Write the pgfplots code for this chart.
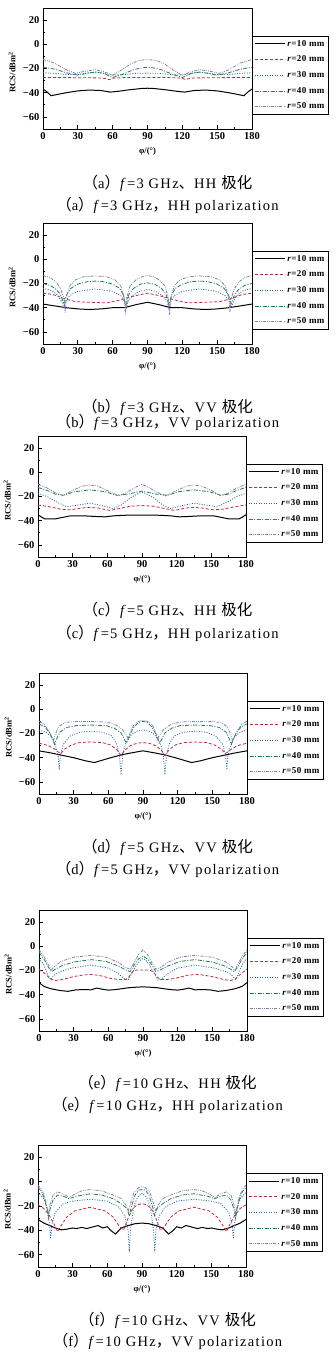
\documentclass[border=0pt]{standalone}
\usepackage{pgfplots}
\pgfplotsset{compat=1.18}
\usepackage{fontspec}
\setmainfont{Liberation Serif}
\newfontfamily\cjk{Noto Sans CJK SC}
\newfontfamily\capfont[LetterSpace=9]{Liberation Serif}
\newfontfamily\legfont[LetterSpace=5]{Liberation Serif}
\newcommand\zh[1]{{\cjk\fontsize{15.5}{16}\selectfont #1}}
\definecolor{cA}{RGB}{0,0,0}
\definecolor{cB}{RGB}{200,40,60}
\definecolor{cC}{RGB}{40,105,165}
\definecolor{cD}{RGB}{30,130,80}
\definecolor{cE}{RGB}{140,120,170}
\pgfplotsset{
 rcs/.style={
  scale only axis, width=208pt, height=121pt,
  xmin=0, xmax=180, ymin=-70, ymax=30,
  xtick={0,30,...,180}, xticklabels={0,30,60,90,120,150,180},
  ytick={-60,-40,...,20}, yticklabels={−60,−40,−20,0,20},
  minor x tick num=1, minor y tick num=1,
  tick align=inside, tick pos=left,
  major tick length=4pt, minor tick length=2pt,
  axis line style={line width=0.8pt},
  every tick/.style={line width=0.8pt, black},
  tick label style={font=\bfseries\fontsize{10.5}{12}\selectfont},
  xlabel={φ/(°)}, ylabel={RCS/dBm\textsuperscript{2}},
  label style={font=\bfseries\fontsize{8.5}{10}\selectfont},
  x label style={at={(axis description cs:0.5,0)}, anchor=center, yshift=-22pt},
  y label style={at={(axis description cs:-0.148,0.47)}, anchor=center},
  legend style={at={(1,0.77)}, anchor=north west, draw=black, line width=0.6pt,
    font=\legfont\bfseries\fontsize{9}{10}\selectfont, inner xsep=2pt, inner ysep=2pt,
    row sep=4.2pt, cells={anchor=east}},
  legend image code/.code={\draw[##1] (0pt,0pt) -- (30pt,0pt);},
 },
 s10/.style={color=cA, line width=1pt, solid},
 s20/.style={color=cB, line width=0.8pt, dash pattern=on 3pt off 2pt},
 s30/.style={color=cC, line width=0.8pt, dash pattern=on 1pt off 1.5pt},
 s40/.style={color=cD, line width=0.8pt, dash pattern=on 4pt off 1.5pt on 1pt off 1.5pt},
 s50/.style={color=cE, line width=0.8pt, dash pattern=on 3pt off 1.2pt on 0.8pt off 1.2pt on 0.8pt off 1.2pt},
}
\newcommand\rleg{\legend{\textit{r}=10 mm,\textit{r}=20 mm,\textit{r}=30 mm,\textit{r}=40 mm,\textit{r}=50 mm}}
\begin{document}
\begin{tikzpicture}
\useasboundingbox (0pt,0pt) rectangle (335pt,-1352pt);
% (a)
\begin{axis}[rcs, at={(43pt,-8pt)}, anchor=north west, width=209pt]
\addplot[s10] coordinates {(0,-37) (3,-39) (7,-42.5) (12,-41.5) (20,-40) (30,-38.5) (40,-37.8) (50,-38.2) (58,-39.5) (65,-38.8) (75,-37.5) (85,-36.5) (90,-36.3) (95,-36.5) (105,-37.5) (115,-38.8) (122,-39.5) (130,-38.2) (140,-37.8) (150,-38.5) (160,-40) (168,-41.5) (173,-42.5) (177,-39) (180,-37)};
\addplot[s20] coordinates {(0,-27.5) (20,-27.5) (50,-27.8) (55,-28.5) (57,-29.3) (60,-28) (70,-27.5) (90,-27.5) (110,-27.5) (120,-28) (123,-29.3) (125,-28.5) (130,-27.8) (160,-27.5) (180,-27.5)};
\addplot[s30] coordinates {(0,-23.5) (10,-24) (20,-25) (30,-25) (40,-23.5) (45,-23) (50,-23.5) (60,-25.5) (70,-25) (80,-24) (90,-23.8) (100,-24) (110,-25) (120,-25.5) (130,-23.5) (135,-23) (140,-23.5) (150,-25) (160,-25) (170,-24) (180,-23.5)};
\addplot[s40] coordinates {(0,-19) (10,-20.5) (20,-23.5) (30,-25.5) (38,-24) (45,-23) (52,-24) (60,-27.5) (68,-25) (78,-21) (85,-19.5) (90,-19) (95,-19.5) (102,-21) (112,-25) (120,-27.5) (128,-24) (135,-23) (142,-24) (150,-25.5) (160,-23.5) (170,-20.5) (180,-19)};
\addplot[s50] coordinates {(0,-12.5) (10,-15.5) (20,-21) (28,-24) (35,-22.5) (45,-21) (52,-22.5) (60,-25.5) (68,-21) (75,-16.5) (82,-13.5) (90,-12.5) (98,-13.5) (105,-16.5) (112,-21) (120,-25.5) (128,-22.5) (135,-21) (145,-22.5) (152,-24) (160,-21) (170,-15.5) (180,-12.5)};
\rleg
\end{axis}
% (b)
\begin{axis}[rcs, at={(43pt,-223pt)}, anchor=north west, width=209pt]
\addplot[s10] coordinates {(0,-37) (10,-38.5) (20,-40) (30,-41) (40,-41.5) (50,-41) (60,-40) (70,-40) (80,-37.5) (90,-35.5) (100,-37.5) (110,-40) (120,-40) (130,-41) (140,-41.5) (150,-41) (160,-40) (170,-38.5) (180,-37)};
\addplot[s20] coordinates {(0,-28) (8,-29) (14,-31) (20,-33) (28,-35) (40,-35.5) (55,-36) (65,-34) (72,-32) (80,-30) (90,-28) (100,-30) (108,-32) (115,-34) (125,-36) (140,-35.5) (152,-35) (160,-33) (166,-31) (172,-29) (180,-28)};
\addplot[s30] coordinates {(0,-24) (8,-26) (13,-30) (16,-35) (18,-40) (19.5,-35) (23,-30) (30,-26.5) (45,-24.5) (60,-26.5) (67,-30) (70,-35) (71.5,-41) (73,-35) (77,-30) (83,-26.5) (90,-25) (97,-26.5) (103,-30) (107,-35) (108.5,-41) (110,-35) (113,-30) (120,-26.5) (135,-24.5) (150,-26.5) (157,-30) (160.5,-35) (162,-40) (164,-35) (167,-30) (172,-26) (180,-24)};
\addplot[s40] coordinates {(0,-20) (6,-21.5) (11,-24.5) (15,-29) (18,-37) (20,-30) (24,-24) (30,-20.5) (38,-18.5) (45,-18) (52,-18.5) (60,-20.5) (66,-24) (69,-29) (71.5,-38) (74,-29) (78,-24) (84,-20.5) (90,-19.5) (96,-20.5) (102,-24) (106,-29) (108.5,-38) (111,-29) (114,-24) (120,-20.5) (128,-18.5) (135,-18) (142,-18.5) (150,-20.5) (156,-24) (160,-30) (162,-37) (165,-29) (169,-24.5) (174,-21.5) (180,-20)};
\addplot[s50] coordinates {(0,-13.5) (6,-15) (11,-18.5) (15,-24) (18,-32) (19,-44) (20,-32) (23,-22) (28,-17) (35,-14.5) (45,-13.7) (55,-14.5) (62,-17) (67,-22) (70,-32) (71,-46) (72,-32) (75,-22) (80,-17) (85,-14.5) (90,-13.3) (95,-14.5) (100,-17) (105,-22) (108,-32) (109,-46) (110,-32) (113,-22) (118,-17) (125,-14.5) (135,-13.7) (145,-14.5) (152,-17) (157,-22) (160,-32) (161,-44) (162,-32) (165,-24) (169,-18.5) (174,-15) (180,-13.5)};
\rleg
\end{axis}
% (c)
\begin{axis}[rcs, at={(38pt,-436pt)}, anchor=north west]
\addplot[s10] coordinates {(0,-35) (3,-37) (6,-38.5) (15,-38.5) (20,-37.5) (28,-36) (40,-36) (50,-36.5) (58,-36.8) (65,-36) (75,-35.5) (90,-35.3) (105,-35.5) (115,-36) (122,-36.8) (130,-36.5) (140,-36) (152,-36) (160,-37.5) (165,-38.5) (174,-38.5) (177,-37) (180,-35)};
\addplot[s20] coordinates {(0,-27) (10,-28.5) (20,-30.5) (28,-31) (38,-29.5) (45,-29) (52,-29.5) (62,-31.5) (70,-30) (80,-28) (90,-27.5) (100,-28) (110,-30) (118,-31.5) (128,-29.5) (135,-29) (142,-29.5) (152,-31) (160,-30.5) (170,-28.5) (180,-27)};
\addplot[s30] coordinates {(0,-17.5) (8,-20) (15,-24) (25,-28.5) (35,-27) (45,-25.5) (55,-27.5) (65,-30) (72,-27) (80,-21) (88,-17) (90,-16.5) (92,-17) (100,-21) (108,-27) (115,-30) (125,-27.5) (135,-25.5) (145,-27) (155,-28.5) (165,-24) (172,-20) (180,-17.5)};
\addplot[s40] coordinates {(0,-12.5) (8,-15) (15,-18) (22,-19) (32,-16) (45,-14.5) (58,-16) (68,-19) (78,-18) (90,-15.5) (102,-18) (112,-19) (122,-16) (135,-14.5) (148,-16) (158,-19) (165,-18) (172,-15) (180,-12.5)};
\addplot[s50] coordinates {(0,-10) (8,-13) (16,-17.5) (22,-19) (30,-15) (38,-11.5) (45,-10.5) (52,-11.5) (62,-16) (70,-19.5) (78,-16) (85,-12) (90,-10) (95,-12) (102,-16) (110,-19.5) (118,-16) (128,-11.5) (135,-10.5) (142,-11.5) (150,-15) (158,-19) (164,-17.5) (172,-13) (180,-10)};
\rleg
\end{axis}
% (d)
\begin{axis}[rcs, at={(39pt,-673pt)}, anchor=north west]
\addplot[s10] coordinates {(0,-34.3) (10,-36) (20,-38) (30,-40) (40,-42.5) (48,-44) (55,-42) (62,-40) (68,-38.5) (72,-37.5) (80,-36) (90,-34.3) (100,-36) (108,-37.5) (112,-38.5) (118,-40) (125,-42) (132,-44) (140,-42.5) (150,-40) (160,-38) (170,-36) (180,-34.3)};
\addplot[s20] coordinates {(0,-28) (8,-30) (13,-32.5) (17,-35.5) (19,-36.5) (22,-33) (28,-29.5) (35,-27.5) (45,-27) (55,-27.5) (62,-29.5) (67,-33) (71,-38) (74,-34) (79,-30) (85,-28) (90,-27.5) (95,-28) (101,-30) (106,-34) (109,-38) (113,-33) (118,-29.5) (125,-27.5) (135,-27) (145,-27.5) (152,-29.5) (158,-33) (161,-36.5) (163,-35.5) (167,-32.5) (172,-30) (180,-28)};
\addplot[s30] coordinates {(0,-17) (6,-19) (11,-23) (14,-29) (16.5,-38) (17.5,-50) (18.5,-38) (21,-29) (27,-22) (35,-19) (45,-18) (55,-19) (63,-22) (67,-28) (69.5,-37) (71,-54) (72.5,-37) (75,-28) (80,-21) (85,-18) (90,-17) (95,-18) (100,-21) (105,-28) (107.5,-37) (109,-54) (110.5,-37) (113,-28) (117,-22) (125,-19) (135,-18) (145,-19) (153,-22) (159,-29) (161.5,-38) (162.5,-50) (163.5,-38) (166,-29) (169,-23) (174,-19) (180,-17)};
\addplot[s40] coordinates {(0,-12) (5,-14.5) (9,-19) (12,-25) (13.5,-29) (15,-25) (18,-19) (24,-15) (32,-13.5) (45,-13) (58,-13.5) (65,-15.5) (71,-19.5) (74.5,-26) (76,-28) (78,-22) (82,-15) (86,-11) (90,-10) (94,-11) (98,-15) (102,-22) (104,-28) (105.5,-26) (109,-19.5) (115,-15.5) (122,-13.5) (135,-13) (148,-13.5) (156,-15) (162,-19) (165,-25) (166.5,-29) (168,-25) (171,-19) (175,-14.5) (180,-12)};
\addplot[s50] coordinates {(0,-10) (4,-12) (8,-17) (11,-23) (12.5,-26) (14,-21) (17,-14.5) (22,-11) (30,-10) (45,-10) (58,-10.5) (66,-12.5) (72,-16.5) (76,-22) (77.5,-25) (79,-19) (82,-13) (86,-10) (90,-9) (94,-10) (98,-13) (101,-19) (102.5,-25) (104,-22) (108,-16.5) (114,-12.5) (122,-10.5) (135,-10) (150,-10) (158,-11) (163,-14.5) (166,-21) (167.5,-26) (169,-23) (172,-17) (176,-12) (180,-10)};
\rleg
\end{axis}
% (e)
\begin{axis}[rcs, at={(39pt,-910pt)}, anchor=north west]
\addplot[s10] coordinates {(0,-30) (4,-33) (10,-35) (18,-36.5) (25,-37.2) (32,-36) (40,-35.7) (45,-36) (50,-34.5) (55,-35.5) (60,-36.2) (66,-35.8) (72,-35) (78,-34.2) (84,-33.8) (90,-33.5) (96,-33.8) (102,-34.2) (108,-35) (114,-35.8) (120,-36.2) (125,-35.5) (130,-34.5) (135,-36) (140,-35.7) (148,-36) (155,-37.2) (162,-36.5) (170,-35) (176,-33) (180,-30)};
\addplot[s20] coordinates {(0,-19) (5,-22.5) (10,-27) (14,-28.3) (20,-27.5) (30,-25) (40,-23.5) (45,-23.3) (52,-24) (62,-26.5) (70,-27.5) (75,-27.5) (78,-25) (81,-21) (85,-19.5) (90,-19.5) (95,-19.5) (99,-21) (102,-25) (105,-27.5) (110,-27.5) (118,-26.5) (128,-24) (135,-23.3) (140,-23.5) (150,-25) (160,-27.5) (166,-28.3) (170,-27) (175,-22.5) (180,-19)};
\addplot[s30] coordinates {(0,-10) (4,-15) (7,-22) (10,-27.5) (13,-24) (18,-21) (28,-18) (45,-15.5) (60,-18) (68,-22) (74,-27) (77,-28) (80,-23) (84,-16) (88,-11) (90,-10) (92,-11) (96,-16) (100,-23) (103,-28) (106,-27) (112,-22) (120,-18) (135,-15.5) (152,-18) (162,-21) (167,-24) (170,-27.5) (173,-22) (176,-15) (180,-10)};
\addplot[s40] coordinates {(0,-5) (4,-10) (8,-17) (11,-21) (14,-19) (20,-16) (30,-13) (45,-11) (58,-12.5) (68,-16) (75,-19.5) (79,-21) (82,-16) (86,-10.5) (90,-8) (94,-10.5) (98,-16) (101,-21) (105,-19.5) (112,-16) (122,-12.5) (135,-11) (150,-13) (160,-16) (166,-19) (169,-21) (172,-17) (176,-10) (180,-5)};
\addplot[s50] coordinates {(0,-3) (4,-8) (8,-15) (10.5,-20) (13,-17) (19,-12.5) (30,-9) (45,-7.5) (58,-9) (68,-13) (75,-17.5) (79,-19) (82,-14) (86,-7) (90,-3) (94,-7) (98,-14) (101,-19) (105,-17.5) (112,-13) (122,-9) (135,-7.5) (150,-9) (161,-12.5) (167,-17) (169.5,-20) (172,-15) (176,-8) (180,-3)};
\rleg
\end{axis}
% (f)
\begin{axis}[rcs, at={(38pt,-1145pt)}, anchor=north west, height=122pt]
\addplot[s10] coordinates {(0,-31) (5,-34) (10,-36) (15,-38) (20,-39.5) (25,-39) (30,-38) (33,-38.5) (38,-37.5) (42,-38.5) (48,-37) (52,-36) (56,-38) (60,-37) (63,-40) (67,-43) (72,-38) (78,-36) (84,-34.5) (90,-34) (96,-34.5) (102,-36) (108,-38) (113,-43) (117,-40) (120,-37) (124,-38) (128,-36) (132,-37) (138,-38.5) (142,-37.5) (147,-38.5) (150,-38) (155,-39) (160,-39.5) (165,-38) (170,-36) (175,-34) (180,-31)};
\addplot[s20] coordinates {(0,-19) (5,-22) (10,-28) (14,-35) (17,-41) (20,-36) (25,-29) (32,-24) (45,-21) (58,-24) (65,-29) (70,-36) (74,-40) (78,-30) (82,-22) (86,-19) (90,-18) (94,-19) (98,-22) (102,-30) (106,-40) (110,-36) (115,-29) (122,-24) (135,-21) (148,-24) (155,-29) (160,-36) (163,-41) (166,-35) (170,-28) (175,-22) (180,-19)};
\addplot[s30] coordinates {(0,-9) (5,-14) (8,-22) (10,-35) (11,-47) (12,-35) (15,-25) (22,-18) (30,-16) (45,-14.5) (60,-16) (70,-21) (75,-28) (78,-40) (79,-58) (80,-40) (83,-20) (86,-13) (90,-9.5) (94,-13) (97,-20) (100,-40) (101,-58) (102,-40) (105,-28) (110,-21) (120,-16) (135,-14.5) (150,-16) (158,-18) (165,-25) (168,-35) (169,-47) (170,-35) (172,-22) (175,-14) (180,-9)};
\addplot[s40] coordinates {(0,-5) (3,-8) (6,-15) (8,-24) (9,-30) (10,-24) (13,-15) (17,-11) (22,-12) (27,-14) (33,-12) (45,-10) (55,-11) (65,-14) (72,-18) (77,-22) (79,-28) (81,-20) (84,-11) (87,-7) (90,-6.5) (93,-7) (96,-11) (99,-20) (101,-28) (103,-22) (108,-18) (115,-14) (125,-11) (135,-10) (147,-12) (153,-14) (158,-12) (163,-11) (167,-15) (170,-24) (171,-30) (172,-24) (174,-15) (177,-8) (180,-5)};
\addplot[s50] coordinates {(0,-3) (3,-6) (6,-13) (8,-22) (9,-27) (10,-20) (13,-11) (17,-8.5) (22,-10) (27,-13) (32,-10) (38,-7.5) (45,-6.5) (55,-7.5) (65,-11) (72,-14) (76,-19) (78,-24) (80,-18) (83,-9) (87,-5) (90,-4) (93,-5) (97,-9) (100,-18) (102,-24) (104,-19) (108,-14) (115,-11) (125,-7.5) (135,-6.5) (142,-7.5) (148,-10) (153,-13) (158,-10) (163,-8.5) (167,-11) (170,-20) (171,-27) (172,-22) (174,-13) (177,-6) (180,-3)};
\rleg
\end{axis}
% captions
\begin{scope}[every node/.style={font=\capfont\fontsize{14.5}{16}\selectfont, anchor=center, inner sep=0pt}]
\node at (167.5pt,-183pt) {\zh{（}a\zh{）}\textit{f}=3 GHz\zh{、}HH \zh{极化}};
\node at (167.5pt,-205pt) {\zh{（}a\zh{）}\textit{f}=3 GHz\zh{，}HH polarization};
\node at (167.5pt,-407pt) {\zh{（}b\zh{）}\textit{f}=3 GHz\zh{、}VV \zh{极化}};
\node at (167.5pt,-422pt) {\zh{（}b\zh{）}\textit{f}=3 GHz\zh{，}VV polarization};
\node at (167.5pt,-610pt) {\zh{（}c\zh{）}\textit{f}=5 GHz\zh{、}HH \zh{极化}};
\node at (167.5pt,-633pt) {\zh{（}c\zh{）}\textit{f}=5 GHz\zh{，}HH polarization};
\node at (167.5pt,-847pt) {\zh{（}d\zh{）}\textit{f}=5 GHz\zh{、}VV \zh{极化}};
\node at (167.5pt,-869pt) {\zh{（}d\zh{）}\textit{f}=5 GHz\zh{，}VV polarization};
\node at (167.5pt,-1083pt) {\zh{（}e\zh{）}\textit{f}=10 GHz\zh{、}HH \zh{极化}};
\node at (167.5pt,-1105pt) {\zh{（}e\zh{）}\textit{f}=10 GHz\zh{，}HH polarization};
\node at (167.5pt,-1320pt) {\zh{（}f\zh{）}\textit{f}=10 GHz\zh{、}VV \zh{极化}};
\node at (167.5pt,-1341pt) {\zh{（}f\zh{）}\textit{f}=10 GHz\zh{，}VV polarization};
\end{scope}
\end{tikzpicture}
\end{document}
